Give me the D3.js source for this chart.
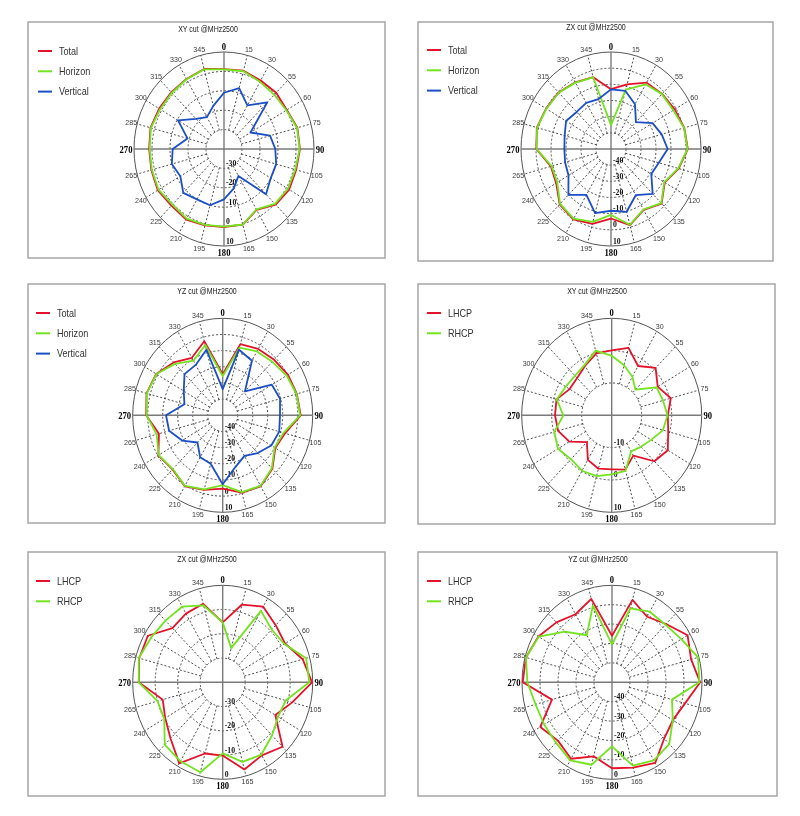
<!DOCTYPE html>
<html><head><meta charset="utf-8">
<script src="https://cdn.jsdelivr.net/npm/d3@7"></script>
<style>body{margin:0;background:#fff}svg{display:block;will-change:transform;transform:translateZ(0)}text{-webkit-font-smoothing:antialiased}</style>
</head><body><svg id="c" width="800" height="816"></svg>
<script>
// ---------- data ----------
const angles = d3.range(0, 360, 15);
const angleLabels = ["0","15","30","55","60","75","90","105","120","135","150","165","180","195","210","225","240","265","270","285","300","315","330","345"];
const titles = ["XY cut @MHz2500","ZX cut @MHz2500","YZ cut @MHz2500","XY cut @MHz2500","ZX cut @MHz2500","YZ cut @MHz2500"];
const linNames = ["Total","Horizon","Vertical"];
const cirNames = ["LHCP","RHCP"];

const domain1 = [-40, 10], ticks1 = [-30,-20,-10,0,10];
const domain2 = [-50, 10], ticks2 = [-40,-30,-20,-10,0,10];
const domain3 = [-50, 10], ticks3 = [-40,-30,-20,-10,0,10];
const domain4 = [-20, 10], ticks4 = [-10,0,10];
const domain5 = [-40, 0],  ticks5 = [-30,-20,-10,0];
const domain6 = [-50, 0],  ticks6 = [-40,-30,-20,-10,0];

const xyTotal    = [1.2,1.8,0.8,1.0,0.3,2.2,2.2,1.5,1.8,0.6,-3.8,0.4,0.2,0.8,2.0,1.3,2.5,1.8,1.6,2.3,1.6,1.4,1.7,2.7];
const xyHorizon  = [1.0,1.5,0.0,-0.5,0.0,2.0,2.0,1.0,1.0,0.0,-4.0,0.3,0.0,0.5,1.5,0.5,2.0,1.5,1.3,2.0,1.0,1.0,1.5,2.5];
const xyVertical = [-11,-7.5,-14,-6,-23,-13.5,-11.5,-10,-10,-7,-24,-19,-14,-10,-10,-8,-12,-10,-11.5,-19,-10.5,-18,-21,-17];

const zxTotal    = [-13,-8.6,-2.6,-1.8,-1.0,0.6,1.2,-3.3,-8.6,-2.3,-6.5,-1.2,-7,-2,0.2,-1.6,-7.8,-8.5,-0.2,1.2,0,-0.6,-2.4,-4];
const zxHorizon  = [-35.2,-12,-3.8,-2,-2,0.4,1,-3.6,-9,-2.6,-6.8,-1.5,-9.2,-3.3,-0.2,-2,-8.6,-9,-0.4,1,-0.2,-0.8,-2.6,-4.2];
const zxVertical = [-13.1,-12.8,-18,-26.5,-18,-15,-12.2,-17,-19,-10.7,-17,-9.8,-11.8,-9,-17.2,-9.8,-17.3,-18.3,-18.9,-18,-15.4,-17.6,-17,-18];

const yzTotal    = [-24.6,-4.4,-2.6,-1.5,0.2,1.2,2.0,-7.0,-9.5,-3.2,0.7,-0.5,-4.7,-2.3,0.7,-2.7,-0.5,-6,1.0,2.6,1.2,-3.8,-8.9,-2.6];
const yzHorizon  = [-25.7,-6.7,-4.4,-3.2,-0.8,1,1.6,-8,-10,-3.7,0.4,-0.8,-6.8,-2.6,0.4,-3,-0.8,-4.4,0.7,2.4,1,-5,-11,-5];
const yzVertical = [-33.8,-8,-11,-29,-12.2,-10.4,-11.8,-11,-12.6,-17,-21,-17,-7.3,-19,-20,-26.2,-18.8,-13,-12.2,-23.6,-20,-14,-14,-8];

const xyLHCP = [0.1,1.6,-2.4,0.7,-2.3,0.4,-1.3,-0.5,1.6,0.1,-5.6,-2.6,-3.3,-2.9,-4.1,-8.3,-3.7,-1.5,-1.1,-0.95,-3.8,-3.7,-2.3,-0.2];
const xyRHCP = [-1.6,-4,-6.2,-8.8,-2.7,-2.3,-1.4,-2.3,-4.8,-6.2,-7.1,-2.2,-1.7,-0.5,-0.2,-0.8,0.7,-0.2,-3.9,-1,-2.3,-2.7,-2,0.7];

const zxLHCP = [-15.3,-6.8,-4,-6.7,-8,-3.2,-0.3,-8,-13,-2.4,-5.2,-2.8,-9.8,-9.6,-1.4,-7.2,-10.5,-12.4,-2.7,-1.6,-1.6,-8.4,-7.3,-6.5];
const zxRHCP = [-15.3,-25.4,-6,-9.2,-8.4,-1.6,-1.5,-11,-11.6,-9,-5.6,-6,-10.7,-1.6,-2.4,-3.6,-10,-10,-2.7,-1.4,-3.2,-4,-4,-7.2];

const yzLHCP = [-26,-6,-11,-7.5,-1.5,-4.5,-1,-8,-11,-9,-2,-4.5,-5.7,-10.5,-4.5,-7.5,-4,-15.5,-0.4,-0.5,-2.8,-6.3,-9.5,-5.5];
const yzRHCP = [-30.5,-10.5,-8,-8,-5.5,-0.5,-1.5,-15.5,-11,-5,-3.5,-5.5,-17,-6,-3.5,-6,-6.5,-6,-3,-0.5,-3,-13,-22,-9];

// ---------- styles / layout ----------
const RED = "#e5122b", GREEN = "#74e31f", BLUE = "#1c4ec4";
const RX = 90, RY = 97;

const panels = [
  {title:titles[0], domain:domain1, ticks:ticks1, names:linNames, series:[xyTotal,xyHorizon,xyVertical], colors:[RED,GREEN,BLUE]},
  {title:titles[1], domain:domain2, ticks:ticks2, names:linNames, series:[zxTotal,zxHorizon,zxVertical], colors:[RED,GREEN,BLUE]},
  {title:titles[2], domain:domain3, ticks:ticks3, names:linNames, series:[yzTotal,yzHorizon,yzVertical], colors:[RED,GREEN,BLUE]},
  {title:titles[3], domain:domain4, ticks:ticks4, names:cirNames, series:[xyLHCP,xyRHCP], colors:[RED,GREEN]},
  {title:titles[4], domain:domain5, ticks:ticks5, names:cirNames, series:[zxLHCP,zxRHCP], colors:[RED,GREEN]},
  {title:titles[5], domain:domain6, ticks:ticks6, names:cirNames, series:[yzLHCP,yzRHCP], colors:[RED,GREEN]}
];
const layout = [
  {fx:28, fy:22, fw:357, fh:236, cx:224, cy:149, tx:208, ty:30, lx:38, ly:51},
  {fx:418, fy:22, fw:355, fh:239, cx:611, cy:149, tx:596, ty:28, lx:427, ly:50},
  {fx:28, fy:284, fw:357, fh:239, cx:222.7, cy:415.3, tx:207, ty:292, lx:36, ly:313},
  {fx:418, fy:284, fw:357, fh:240, cx:611.7, cy:415.3, tx:597, ty:292, lx:427, ly:313},
  {fx:28, fy:552, fw:357, fh:244, cx:222.7, cy:682.3, tx:207, ty:560, lx:36, ly:581},
  {fx:418, fy:552, fw:359, fh:244, cx:612, cy:682.3, tx:598, ty:560, lx:427, ly:581}
];

const svg = d3.select("#c");
const rad = d => d * Math.PI / 180;
const SANS = "Liberation Sans, Arial, sans-serif", SERIF = "Liberation Serif, Times New Roman, serif";

panels.forEach((p, i) => {
  const L = layout[i];
  const g = svg.append("g");
  g.append("rect").attr("x", L.fx).attr("y", L.fy).attr("width", L.fw).attr("height", L.fh)
    .attr("fill", "#fff").attr("stroke", "#a6a6a6").attr("stroke-width", 1.5);
  g.append("text").attr("transform", `translate(${L.tx},${L.ty}) scale(0.95,1.1)`).attr("text-anchor", "middle").attr("dominant-baseline", "middle")
    .attr("font-family", SANS).attr("font-size", 7.4).attr("fill", "#222").text(p.title);

  const rxS = d3.scaleLinear().domain(p.domain).range([0, RX]).clamp(true);
  const ryS = d3.scaleLinear().domain(p.domain).range([0, RY]).clamp(true);
  const cx = L.cx, cy = L.cy;
  const outer = p.domain[1];
  const inner = p.ticks[0];

  g.selectAll(".ring").data(p.ticks.filter(t => t !== outer)).enter().append("ellipse")
    .attr("cx", cx).attr("cy", cy).attr("rx", t => rxS(t)).attr("ry", t => ryS(t))
    .attr("fill", "none").attr("stroke", "#2e2e2e").attr("stroke-width", 0.85).attr("stroke-dasharray", "2,2");
  g.selectAll(".spoke").data(angles.filter(a => a % 90 !== 0)).enter().append("line")
    .attr("x1", a => cx + rxS(inner) * Math.sin(rad(a))).attr("y1", a => cy - ryS(inner) * Math.cos(rad(a)))
    .attr("x2", a => cx + rxS(outer) * Math.sin(rad(a))).attr("y2", a => cy - ryS(outer) * Math.cos(rad(a)))
    .attr("stroke", "#2e2e2e").attr("stroke-width", 0.85).attr("stroke-dasharray", "2,2");
  g.append("ellipse").attr("cx", cx).attr("cy", cy).attr("rx", rxS(outer)).attr("ry", ryS(outer))
    .attr("fill", "none").attr("stroke", "#555").attr("stroke-width", 1);
  g.append("line").attr("x1", cx - RX).attr("x2", cx + RX).attr("y1", cy).attr("y2", cy).attr("stroke", "#7a7a7a").attr("stroke-width", 1.4);
  g.append("line").attr("x1", cx).attr("x2", cx).attr("y1", cy - RY).attr("y2", cy + RY).attr("stroke", "#7a7a7a").attr("stroke-width", 1.4);

  angles.forEach((a, k) => {
    const card = a % 90 === 0;
    const x = cx + 96 * Math.sin(rad(a)) - (a === 270 ? 2 : 0);
    const y = cy - 103 * Math.cos(rad(a));
    const t = g.append("text")
      .attr("text-anchor", "middle").attr("dominant-baseline", "central")
      .text(angleLabels[k]);
    if (card) t.attr("transform", `translate(${x},${y}) scale(0.82,1)`).attr("font-family", SERIF).attr("font-weight", "bold").attr("font-size", 10.5).attr("fill", "#000");
    else t.attr("transform", `translate(${x},${y}) scale(0.95,1.05)`).attr("font-family", SANS).attr("font-size", 7.5).attr("fill", "#3a3a3a");
  });

  g.selectAll(".rl").data(p.ticks).enter().append("text")
    .attr("transform", t => `translate(${cx + 2},${cy + ryS(t) - 2.5}) scale(0.88,1.02)`)
    .attr("font-family", SERIF).attr("font-weight", "bold").attr("font-size", 8.8)
    .attr("fill", "#111").text(t => String(t));

  p.series.forEach((s, j) => {
    const line = d3.line()
      .x((v, k) => cx + rxS(v) * Math.sin(rad(angles[k])))
      .y((v, k) => cy - ryS(v) * Math.cos(rad(angles[k])))
      .curve(d3.curveLinearClosed);
    g.append("path").attr("d", line(s)).attr("fill", "none").attr("stroke", p.colors[j]).attr("stroke-width", 1.8).attr("stroke-linejoin", "round");
  });

  p.names.forEach((n, j) => {
    const y = L.ly + j * 20.3;
    g.append("line").attr("x1", L.lx).attr("x2", L.lx + 14).attr("y1", y).attr("y2", y).attr("stroke", p.colors[j]).attr("stroke-width", 2);
    g.append("text").attr("transform", `translate(${L.lx + 21},${y}) scale(0.84,1.06)`).attr("dominant-baseline", "central")
      .attr("font-family", SANS).attr("font-size", 10.8).attr("fill", "#333").text(n);
  });
});
</script></body></html>
